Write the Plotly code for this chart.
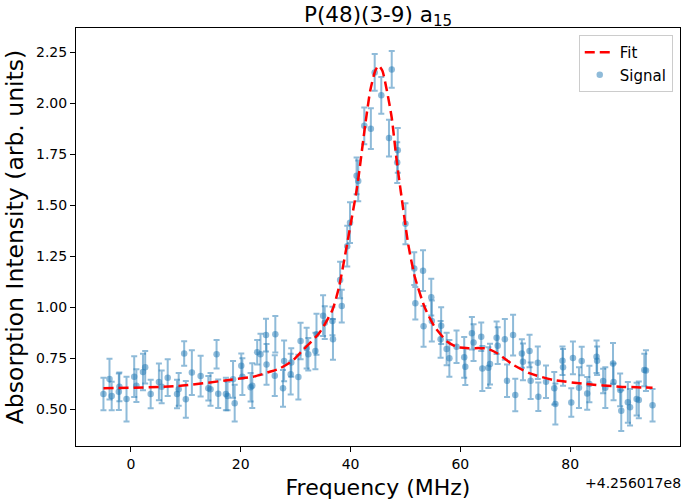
import plotly.graph_objects as go

# ----------------------------
# Measured signal (offset MHz from 4.256017e8)
# ----------------------------
freq = [-5.0, -3.9, -3.5, -2.2, -2.1, -0.8, 0.6, 1.0, 2.2, 2.6,
        3.6, 5.1, 5.6, 6.7, 8.4, 8.7, 9.7, 10.0, 11.1, 12.7,
        14.1, 14.5, 15.6, 15.9, 17.3, 17.6, 18.6, 18.9, 20.1, 20.3,
        21.8, 22.1, 23.0, 23.6, 24.6, 24.7, 26.2, 26.3,
        27.7, 27.9, 29.1, 29.2, 30.5, 30.9, 32.0, 32.3, 33.6, 33.8,
        35.0, 35.3, 36.7, 36.8, 38.1, 38.4, 39.4, 39.9, 41.1, 41.4,
        42.5, 43.7, 44.4, 45.6, 47.0, 47.5, 48.5, 48.6, 50.0, 51.6,
        51.8, 53.2, 53.3, 54.7, 54.8, 56.4, 56.5, 57.5, 58.0, 59.3,
        60.7, 60.9, 62.1, 62.4, 63.8, 64.0, 65.1, 65.4, 66.6, 66.8,
        68.1, 68.5, 69.6, 70.0, 71.2, 71.4, 72.6, 72.8, 74.1, 74.2,
        75.6, 77.1, 77.3, 78.6, 78.7, 80.2, 80.5, 81.6, 82.1, 83.1,
        83.5, 84.8, 84.9, 86.0, 86.4, 87.8, 87.9, 89.1, 89.3, 90.5,
        90.9, 92.1, 92.5, 93.5, 93.8, 95.0]

signal = [0.575, 0.648, 0.565, 0.586, 0.61, 0.55, 0.66, 0.616, 0.683, 0.706,
          0.575, 0.634, 0.61, 0.655, 0.575, 0.598, 0.774, 0.549, 0.68, 0.663,
          0.603, 0.598, 0.77, 0.576, 0.575, 0.565, 0.647, 0.53, 0.714, 0.66,
          0.608, 0.616, 0.78, 0.77, 0.864, 0.72, 0.665, 0.868,
          0.603, 0.737, 0.672, 0.73, 0.658, 0.835, 0.80, 0.77, 0.786, 0.868,
          0.959, 0.925, 0.933, 0.843, 1.134, 1.006, 1.30, 1.415, 1.645, 1.62,
          1.89, 1.876, 2.152, 2.04, 1.83, 2.167, 1.71, 1.77, 1.41, 1.19,
          1.02, 1.18, 0.907, 1.05, 0.933, 0.843, 0.91, 0.796, 0.75, 0.807,
          0.755, 0.709, 0.873, 0.827, 0.856, 0.70, 0.704, 0.722, 0.851, 0.812,
          0.843, 0.64, 0.864, 0.57, 0.774, 0.733, 0.786, 0.64, 0.728, 0.562,
          0.635, 0.603, 0.526, 0.738, 0.706, 0.533, 0.752, 0.606, 0.737, 0.578,
          0.624, 0.758, 0.738, 0.639, 0.606, 0.725, 0.634, 0.595, 0.493, 0.534,
          0.51, 0.55, 0.546, 0.693, 0.69, 0.52]

sigma = [0.08, 0.10, 0.07, 0.09, 0.07, 0.11, 0.10, 0.08, 0.09, 0.08,
         0.07, 0.09, 0.08, 0.09, 0.07, 0.08, 0.06, 0.09, 0.11, 0.10,
         0.06, 0.08, 0.07, 0.07, 0.08, 0.07, 0.09, 0.09, 0.06, 0.09,
         0.07, 0.11, 0.06, 0.10, 0.08, 0.10, 0.10, 0.09,
         0.09, 0.10, 0.10, 0.07, 0.11, 0.09, 0.10, 0.08, 0.09, 0.10,
         0.10, 0.08, 0.07, 0.10, 0.09, 0.08, 0.10, 0.10, 0.09, 0.10,
         0.09, 0.10, 0.09, 0.09, 0.09, 0.09, 0.10, 0.11, 0.10, 0.08,
         0.08, 0.10, 0.10, 0.09, 0.10, 0.09, 0.09, 0.08, 0.09, 0.08,
         0.10, 0.09, 0.08, 0.09, 0.07, 0.11, 0.10, 0.10, 0.08, 0.09,
         0.10, 0.08, 0.10, 0.08, 0.07, 0.09, 0.08, 0.09, 0.08, 0.07,
         0.08, 0.08, 0.10, 0.07, 0.09, 0.07, 0.08, 0.10, 0.07, 0.08,
         0.09, 0.08, 0.07, 0.06, 0.10, 0.10, 0.09, 0.08, 0.10, 0.10,
         0.09, 0.08, 0.09, 0.08, 0.10, 0.08]

# fitted curve
fit_x = [-5, 8.7, 17.9, 22.3, 25.3, 27.1, 29.5, 31.3, 34.3, 36.7, 37.9, 39.7,
         41.2, 42.7, 43.6, 44.5, 45.1, 45.8, 46.6, 47.5, 48.4, 49.6, 50.5,
         51.7, 53.5, 55.3, 57.7, 59.5, 61.5, 63.5, 64.9, 66.7, 69.7, 72.7,
         76.9, 83, 89, 95]
fit_y = [0.603, 0.614, 0.644, 0.66, 0.684, 0.70, 0.74, 0.79, 0.874, 0.987, 1.10, 1.36,
         1.59, 1.90, 2.065, 2.16, 2.185, 2.16, 2.065, 1.93, 1.72, 1.48, 1.31,
         1.15, 1.00, 0.905, 0.83, 0.805, 0.80, 0.80, 0.798, 0.775, 0.717, 0.676,
         0.644, 0.624, 0.611, 0.606]

assert len(freq) == len(signal) == len(sigma)

blue = "rgba(31,119,180,0.5)"
FONT = "DejaVu Sans"

fig = go.Figure()

fig.add_trace(go.Scatter(
    x=freq, y=signal, mode="markers", name="Signal",
    marker=dict(color=blue, size=6.5, line=dict(width=0)),
    error_y=dict(type="data", array=sigma, visible=True,
                 color=blue, thickness=2, width=3),
))

fig.add_trace(go.Scatter(
    x=fit_x, y=fit_y, mode="lines", name="Fit",
    line=dict(color="red", width=2.5, dash="10px,5px", shape="spline", smoothing=0.6),
))

axis_common = dict(
    showline=True, linecolor="black", linewidth=1, mirror=True,
    ticks="outside", ticklen=5, tickwidth=1, tickcolor="black",
    showgrid=False, zeroline=False, automargin=False,
    tickfont=dict(family=FONT, size=14, color="black"),
)

fig.update_xaxes(
    range=[-10, 100], tickvals=[0, 20, 40, 60, 80],
    title=dict(text="Frequency (MHz)", font=dict(family=FONT, size=22, color="black"), standoff=8),
    **axis_common,
)
fig.update_yaxes(
    range=[0.32, 2.37], tickvals=[0.5, 0.75, 1.0, 1.25, 1.5, 1.75, 2.0, 2.25], tickformat=".2f",
    title=dict(text="Absorption Intensity (arb. units)", font=dict(family=FONT, size=23.5, color="black"), standoff=5),
    **axis_common,
)

fig.update_layout(
    width=685, height=503,
    margin=dict(l=76, r=5, t=28, b=57),
    plot_bgcolor="white", paper_bgcolor="white",
    font=dict(family=FONT, color="black"),
    title=dict(text="P(48)(3-9) a<sub>15</sub>", x=0.5, xref="paper",
               y=1 - 14 / 503, yanchor="middle",
               font=dict(family=FONT, size=21.5, color="black")),
    legend=dict(x=0.988, y=0.983, xanchor="right", yanchor="top",
                traceorder="reversed", bgcolor="rgba(255,255,255,0.8)",
                bordercolor="#cccccc", borderwidth=1,
                font=dict(family=FONT, size=15, color="black")),
    showlegend=True,
)

# matplotlib-style offset text for the x axis
fig.add_annotation(text="+4.256017e8", xref="paper", yref="paper",
                   x=1.005, y=-0.088, xanchor="right", yanchor="middle",
                   showarrow=False, font=dict(family=FONT, size=14, color="black"))

# drop the default page margin so the figure sits at the window's corner
fig.write_html("out.html", config={"displayModeBar": False},
               post_script="document.body.style.margin='0';")
